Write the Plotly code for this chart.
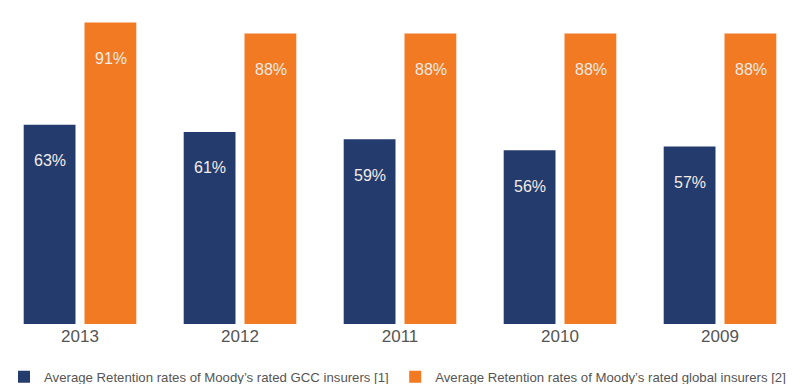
import plotly.graph_objects as go

years = ["2013", "2012", "2011", "2010", "2009"]
gcc = [63, 61, 59, 56, 57]
glob = [91, 88, 88, 88, 88]
names = ["Average Retention rates of Moody\u2019s rated GCC insurers [1]",
         "Average Retention rates of Moody\u2019s rated global insurers [2]"]
colors = ["#243b6e", "#f27a22"]
legends = ["legend", "legend2"]

FONT = "Arial, Liberation Sans, sans-serif"

fig = go.Figure()
for vals, name, col, lg in zip([gcc, glob], names, colors, legends):
    fig.add_trace(go.Bar(x=years, y=vals, name=name, marker_color=col,
                         marker_line_width=0, hoverinfo="skip", legend=lg))

# value labels inside the bars, near the top (x given as category index)
for k, vals in enumerate([gcc, glob]):
    for i, v in enumerate(vals):
        fig.add_annotation(x=i, y=v, xref="x", yref="y", text=f"{v}%",
                           showarrow=False, xshift=(-30.5 if k == 0 else 30.5),
                           yshift=-36, yanchor="middle",
                           font=dict(family=FONT, size=16, color="#f4ece6"))

leg_common = dict(orientation="h", xanchor="left", yref="container",
                  y=0.018, yanchor="middle",
                  font=dict(size=13.2, color="#555555"))

fig.update_layout(
    width=803, height=384,
    margin=dict(l=0, r=3, t=8, b=60, autoexpand=False),
    paper_bgcolor="white", plot_bgcolor="white",
    barmode="group", bargap=0.24, bargroupgap=0.148,
    font=dict(family=FONT, color="#555555"),
    xaxis=dict(type="category", range=[-0.5, len(years) - 0.5], showgrid=False,
               showline=False, zeroline=False, ticks="", automargin=False,
               tickfont=dict(size=17, color="#555555")),
    yaxis=dict(range=[8.3, 95.0], visible=False, automargin=False),
    showlegend=True,
    legend=dict(x=0.005, **leg_common),
    legend2=dict(x=0.494, **leg_common),
)

fig.write_html("out.html")
